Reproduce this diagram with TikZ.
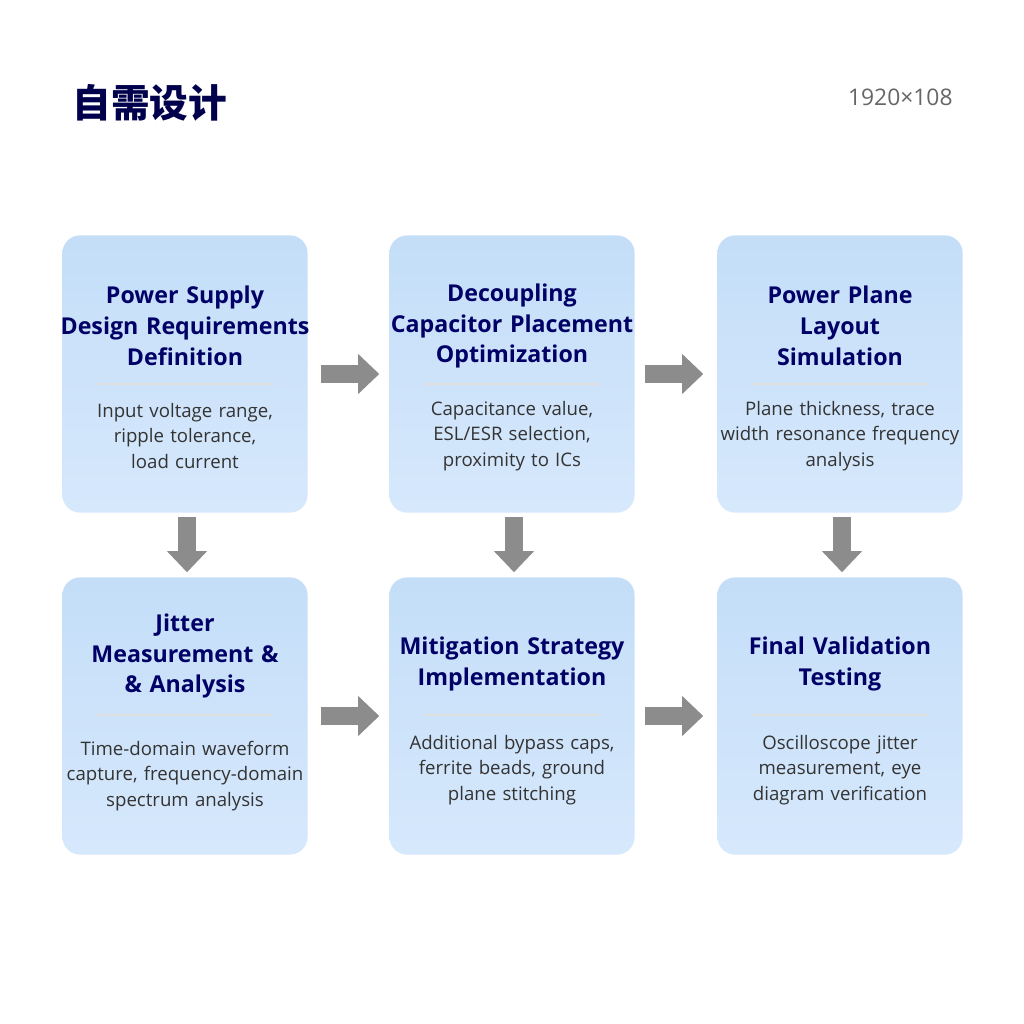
\documentclass[tikz,border=0pt]{standalone}
\usepackage{fontspec}
\setmainfont{Open Sans}
\newfontfamily\cjk{Noto Sans CJK SC}
\usetikzlibrary{positioning,arrows.meta}
\definecolor{boxtop}{RGB}{196,222,248}
\definecolor{boxbot}{RGB}{214,232,252}
\begin{document}
\begin{tikzpicture}[x=0.01cm,y=-0.01cm]
% styles for the steps and the arrows
\tikzstyle{step box}=[draw=none,rounded corners=5,minimum width=2.45cm,minimum height=2.77cm,
  top color=boxtop,bottom color=boxbot,inner sep=0];
\tikzstyle{step head}=[font=\bfseries\fontsize{6.6}{8.8}\selectfont,text=blue!40!black,align=center,text width=3cm];
\tikzstyle{step body}=[font=\fontsize{5.3}{7.3}\selectfont,text=black!80,align=center,text width=3cm];
\tikzstyle{flow}=[-{Triangle[length=6pt,width=11pt]},line width=5pt,draw=black!45];
\useasboundingbox[fill=white](0,0)rectangle(1024,1024);
% title
\node(title)[anchor=west,font=\cjk\bfseries\fontsize{11}{12}\selectfont,text=blue!30!black]at(60,103){自需设计};
\node(size)[anchor=east,font=\fontsize{6.5}{8}\selectfont,text=black!60]at(965,97){1920×108};
% the six steps
\node(s1)[step box]at(185,374){};
\node(s2)[step box]at(512,374){};
\node(s3)[step box]at(840,374){};
\node(s4)[step box]at(185,716){};
\node(s5)[step box]at(512,716){};
\node(s6)[step box]at(840,716){};
\node[step head]at(185,326){Power Supply\\Design Requirements\\Definition};
\node[step head]at(512,326){Decoupling\\Capacitor Placement\\Optimization};
\node[step head]at(840,326){Power Plane\\Layout\\Simulation};
\node[step head]at(185,656){Jitter\\Measurement \&\\\& Analysis};
\node[step head]at(512,664){Mitigation Strategy\\Implementation};
\node[step head]at(840,664){Final Validation\\Testing};
\node[step body]at(185,436){Input voltage range,\\ripple tolerance,\\load current};
\node[step body]at(512,436){Capacitance value,\\ESL/ESR selection,\\proximity to ICs};
\node[step body]at(840,436){Plane thickness, trace\\width resonance frequency\\analysis};
\node[step body]at(185,776){Time-domain waveform\\capture, frequency-domain\\spectrum analysis};
\node[step body]at(512,770){Additional bypass caps,\\ferrite beads, ground\\plane stitching};
\node[step body]at(840,770){Oscilloscope jitter\\measurement, eye\\diagram verification};
% dividers
\foreach \x in {185,512,840}{
\draw[black!12](\x-88,384)--(\x+88,384);
\draw[black!12](\x-88,715)--(\x+88,715);}
% arrows
\draw[flow](s1.east)++(13,0)--++(58,0);
\draw[flow](s2.east)++(10,0)--++(58,0);
\draw[flow](s4.east)++(13,0)--++(58,0);
\draw[flow](s5.east)++(10,0)--++(58,0);
\foreach \n in {1,2,3}
\draw[flow](s\n.south)++(2,4)--++(0,55);
\end{tikzpicture}
\end{document}
